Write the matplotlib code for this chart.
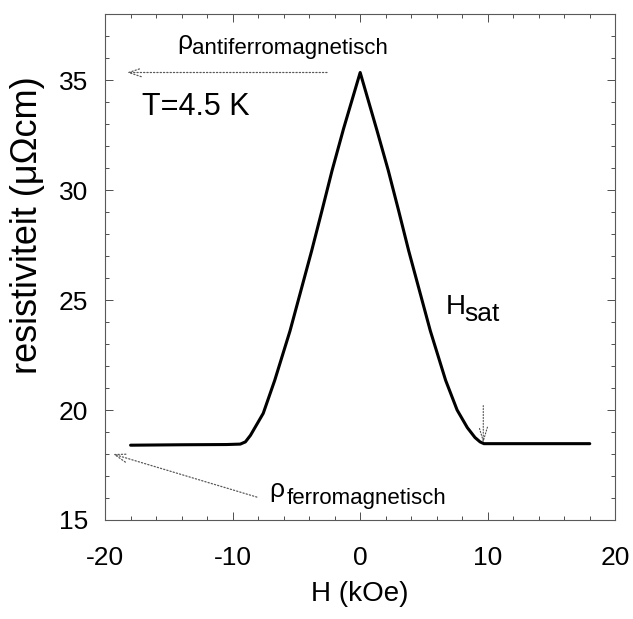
import numpy as np
import matplotlib.pyplot as plt
from matplotlib.ticker import MultipleLocator

plt.rcParams['font.family'] = ['Liberation Sans', 'DejaVu Sans']
plt.rcParams['axes.unicode_minus'] = False

# veld (kOe) en resistiviteit (uOhm cm), T = 4.5 K
H = [-18, -14, -10.5, -9.4, -9.0, -8.6, -8.2, -7.6, -6.7, -5.5, -3.8, -3.0, -2.2, -1.3, 0,
     1.3, 2.2, 3.0, 3.8, 5.5, 6.7, 7.6, 8.4, 9.0, 9.4, 9.7, 12, 15, 18]
rho = [18.4, 18.42, 18.43, 18.45, 18.55, 18.85, 19.25, 19.85, 21.35, 23.6, 27.25, 29.06, 30.9, 32.8, 35.35,
       32.75, 30.9, 29.1, 27.25, 23.6, 21.35, 20.0, 19.2, 18.75, 18.55, 18.47, 18.47, 18.47, 18.47]

rho_af = 35.35   # antiferromagnetische waarde (piek)
rho_f = 18.0     # ferromagnetische waarde
H_sat = 9.65

fig = plt.figure(figsize=(6.33, 6.19), dpi=100)
ax = fig.add_axes([0.166, 0.160, 0.806, 0.817])

ax.plot(H, rho, color='black', lw=2.2, solid_capstyle='round', solid_joinstyle='round')

ax.set_xlim(-20, 20)
ax.set_ylim(15, 38)
ax.xaxis.set_major_locator(MultipleLocator(10))
ax.xaxis.set_minor_locator(MultipleLocator(2))
ax.yaxis.set_minor_locator(MultipleLocator(1))
ax.set_yticks([15, 20, 25, 30, 35])
ax.tick_params(which='both', direction='in', top=True, right=True, width=0.7, color='0.3')
ax.tick_params(which='major', length=6, labelsize=19)
ax.tick_params(which='minor', length=3)
ax.tick_params(axis='x', which='major', pad=19)
ax.tick_params(axis='y', which='major', pad=12)
for s in ax.spines.values():
    s.set_linewidth(0.8)
    s.set_color('0.35')

ax.set_xlabel('H (kOe)', fontsize=20, labelpad=8)
ax.set_ylabel('resistiviteit (\u03bc\u03a9cm)', fontsize=26)
ax.yaxis.set_label_coords(-0.118, 0.583)

arrow = dict(arrowstyle='->,head_length=0.9,head_width=0.3', linestyle=':', color='0.35', lw=0.9,
             shrinkA=0, shrinkB=0)

# rho antiferromagnetisch
ax.annotate('', xy=(-18.3, rho_af), xytext=(-2.6, rho_af), arrowprops=arrow)
ax.text(-14.35, 36.4, '\u03c1', fontsize=19, ha='left', va='baseline')
ax.text(-13.2, 36.2, 'antiferromagnetisch', fontsize=16, ha='left', va='baseline')

# rho ferromagnetisch
ax.annotate('', xy=(-19.4, rho_f), xytext=(-8.1, 16.04), arrowprops=arrow)
ax.text(-7.1, 16.04, '\u03c1', fontsize=19, ha='left', va='baseline')
ax.text(-5.8, 15.73, 'ferromagnetisch', fontsize=16, ha='left', va='baseline')

ax.text(-17.1, 33.8, 'T=4.5 K', fontsize=22, ha='left', va='center')

# verzadigingsveld
ax.annotate('', xy=(H_sat, 18.5), xytext=(H_sat, 20.2),
            arrowprops=dict(arrowstyle='->,head_length=1.0,head_width=0.3', linestyle=':',
                            color='0.3', lw=0.8, shrinkA=0, shrinkB=0))
ax.text(6.67, 24.35, 'H', fontsize=20, ha='left', va='baseline')
ax.text(8.15, 24.05, 'sat', fontsize=19, ha='left', va='baseline')

fig.savefig('out.png', dpi=100)
